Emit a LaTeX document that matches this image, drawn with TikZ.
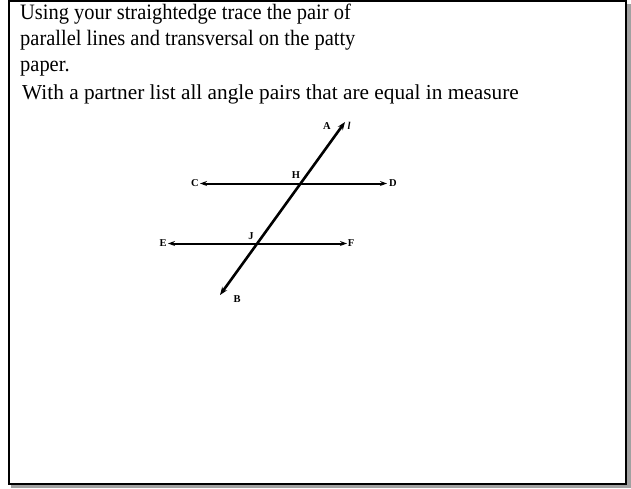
\documentclass[tikz,border=0pt]{standalone}
\usepackage{fontspec}
\setmainfont{Liberation Serif}
\newfontfamily\narrowserif[FakeStretch=0.93]{Liberation Serif}
\usetikzlibrary{arrows.meta}
\begin{document}
\begin{tikzpicture}[x=1pt,y=-1pt,
  big/.style={anchor=base west,inner sep=0pt,font=\narrowserif\fontsize{22}{26}\selectfont},
  mid/.style={anchor=base west,inner sep=0pt,font=\fontsize{21.3}{24}\selectfont},
  lbl/.style={inner sep=0pt,font=\fontsize{10.5}{12}\selectfont\bfseries},
  line2/.style={line width=2pt,{Stealth[length=7pt,width=5pt]}-{Stealth[length=7pt,width=5pt]}},
  trans/.style={line width=2.6pt,{Stealth[length=8pt,width=6pt]}-{Stealth[length=8pt,width=6pt]}}]
\useasboundingbox (0,0) rectangle (631,488);
% frame with shadow
\fill[gray!95!black!70] (11,4) rectangle (631,488);
\draw[line width=2pt,fill=white] (9,1) rectangle (626,484);
% text
\node[big] (t1) at (20,19.5) {Using your straightedge trace the pair of};
\node[big] (t2) at (20,45.5) {parallel lines and transversal on the patty};
\node[big] (t3) at (20,71) {paper.};
\node[mid] (t4) at (22,99) {With a partner list all angle pairs that are equal in measure};
% geometry
\coordinate (A) at (345,122);
\coordinate (B) at (220,295);
\coordinate (C) at (200,183.5);
\coordinate (D) at (387,183.5);
\coordinate (E) at (168,243.5);
\coordinate (F) at (347,243.5);
\draw[line2] (C) -- (D);
\draw[line2] (E) -- (F);
\draw[trans] (B) -- (A);
% labels
\node[lbl] (lA) at (327,126) {A};
\node[lbl] (ll) at (349,126) {\itshape l};
\node[lbl] (lC) at (195,183.5) {C};
\node[lbl] (lD) at (393,183.5) {D};
\node[lbl] (lH) at (296,175) {H};
\node[lbl] (lJ) at (251,236) {J};
\node[lbl] (lE) at (163,243.5) {E};
\node[lbl] (lF) at (351,243.5) {F};
\node[lbl] (lB) at (237,299) {B};
\end{tikzpicture}
\end{document}
